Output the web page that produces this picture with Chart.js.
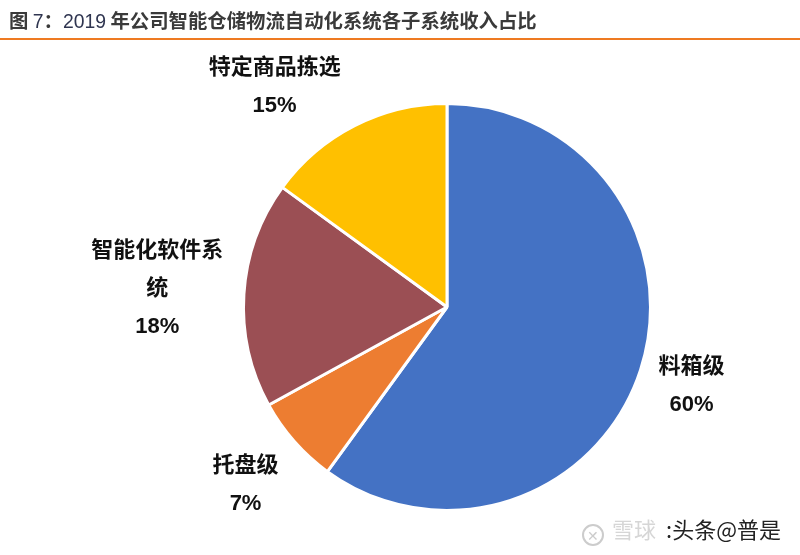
<!DOCTYPE html>
<html>
<head>
<meta charset="utf-8">
<script src="https://cdn.jsdelivr.net/npm/chart.js@4/dist/chart.umd.min.js"></script>
<style>
  html, body { margin: 0; padding: 0; background: #fff; }
  #wrap { position: relative; width: 800px; height: 555px; overflow: hidden; }
  #c { position: absolute; left: 0; top: 0; }
  #title { position: absolute; left: 9px; top: 7px; font: bold 18px "Noto Sans CJK SC", sans-serif; color: #3a3a3a; white-space: nowrap; line-height: 26px; }
  #title .num { font-weight: normal; font-family: "Liberation Sans", sans-serif; color: #2f3550; }
  #rule { position: absolute; left: 0; top: 38px; width: 800px; height: 2px; background: #EE7A22; }
  #wm { position: absolute; left: 582px; top: 512px; font: 22px "Noto Sans CJK SC", sans-serif; white-space: nowrap; }
  #wm .logo { display: inline-block; width: 18px; height: 18px; border: 2px solid #ccc; border-radius: 50%; vertical-align: -3px; margin-right: 8px; color: #ccc; font-size: 14px; line-height: 18px; text-align: center; }
  #wm .light { color: #d6d6d6; margin-right: 10px; }
  #wm .dark { color: #222; }
</style>
</head>
<body>
<div id="wrap">
  <canvas id="c" width="800" height="555"></canvas>
  <div id="title">图 <span class="num">7</span>：<span class="num">2019</span> 年公司智能仓储物流自动化系统各子系统收入占比</div>
  <div id="rule"></div>
  <div id="wm"><span class="logo">✕</span><span class="light">雪球</span><span class="dark">:头条@普是</span></div>
</div>
<script>
// fit title to the reference width (text spans x = 9 .. ~537)
(function () {
  const t = document.getElementById('title');
  const w = t.getBoundingClientRect().width;
  const target = 528;
  const fs = 18 * target / w;
  t.style.fontSize = fs.toFixed(2) + 'px';
})();

const categories = ['料箱级', '托盘级', '智能化软件系统', '特定商品拣选'];
const shares = [60, 7, 18, 15];
const sliceColors = ['#4472C4', '#ED7D31', '#9B4F54', '#FFC000'];

const labelPlugin = {
  id: 'outerLabels',
  afterDraw(chart, args, opts) {
    const ctx = chart.ctx;
    const meta = chart.getDatasetMeta(0);
    const data = chart.data.datasets[0].data;
    const total = data.reduce((a, b) => a + b, 0);
    ctx.save();
    ctx.font = opts.font;
    ctx.fillStyle = opts.color;
    ctx.textAlign = 'center';
    ctx.textBaseline = 'middle';
    meta.data.forEach((arc, i) => {
      const name = chart.data.labels[i];
      const lines = [];
      for (let k = 0; k < name.length; k += opts.maxChars) lines.push(name.slice(k, k + opts.maxChars));
      lines.push(Math.round(data[i] / total * 100) + '%');
      const off = opts.offsets[i];
      const cx = arc.x + off[0] * arc.outerRadius;
      const cy = arc.y + off[1] * arc.outerRadius;
      const h = (lines.length - 1) * opts.lineHeight;
      lines.forEach((t, j) => ctx.fillText(t, cx, cy - h / 2 + j * opts.lineHeight));
    });
    ctx.restore();
  }
};

new Chart(document.getElementById('c'), {
  type: 'pie',
  data: {
    labels: categories,
    datasets: [{
      data: shares,
      backgroundColor: sliceColors,
      borderColor: '#ffffff',
      borderWidth: 3
    }]
  },
  options: {
    responsive: false,
    animation: false,
    layout: { padding: { left: 242, right: 148, top: 102, bottom: 43 } },
    plugins: {
      legend: { display: false },
      tooltip: { enabled: false },
      outerLabels: {
        font: 'bold 22px "Liberation Sans", "Noto Sans CJK SC", sans-serif',
        color: '#111',
        lineHeight: 38,
        maxChars: 6,
        offsets: [[1.202, 0.389], [-0.990, 0.874], [-1.424, -0.089], [-0.847, -1.081]]
      }
    }
  },
  plugins: [labelPlugin]
});
</script>
</body>
</html>
